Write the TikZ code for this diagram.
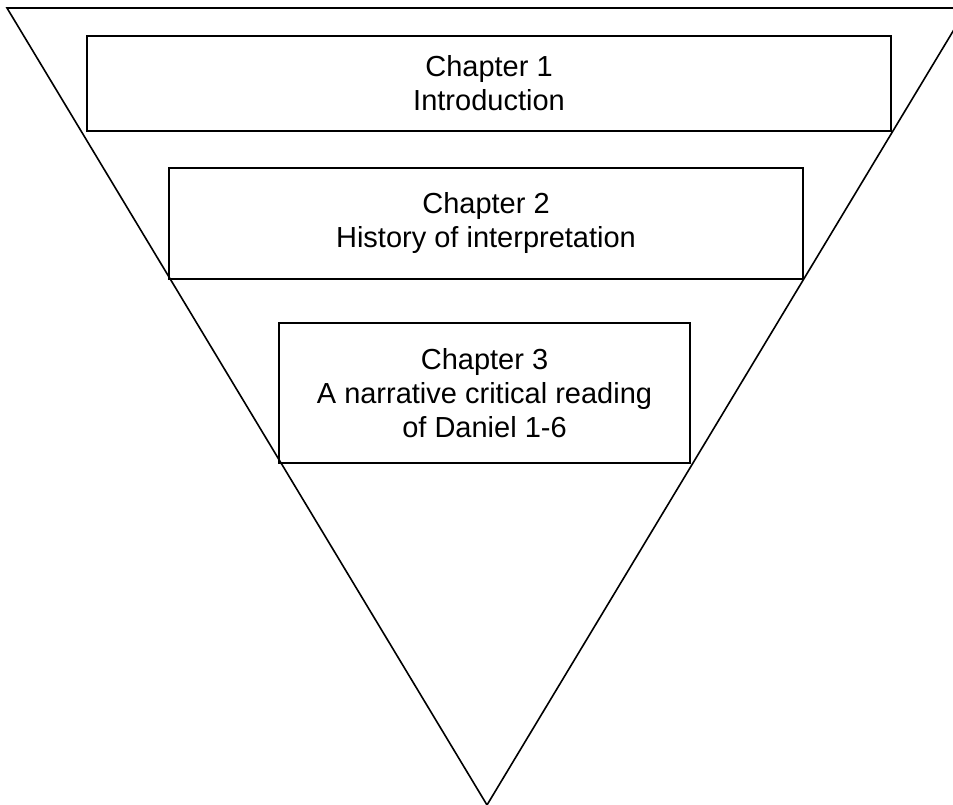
\documentclass[tikz,border=0pt]{standalone}
\usepackage{fontspec}
\setmainfont{Liberation Sans}
\usetikzlibrary{positioning}

\begin{document}
\begin{tikzpicture}[
    x=1pt, y=-1pt,
    node distance=36pt,
    chapbox/.style={rectangle, draw, line width=2pt, align=center, inner sep=0pt, font=\fontsize{29}{34}\selectfont},
    funnel/.style={line width=1.6pt, line join=miter}
]
    \useasboundingbox (0,0) rectangle (953,805);
    \clip (0,0) rectangle (953,805);

    % Funnel outline
    \coordinate (topleft) at (7,8);
    \coordinate (topright) at (967,8);
    \coordinate (apex) at (487,805);
    \draw[funnel] (topleft) -- (topright) -- (apex) -- cycle;

    % Chapter boxes
    \node[chapbox, minimum width=804pt, minimum height=95pt] (intro) at (489,83.5) {Chapter 1\\Introduction};
    \node[chapbox, minimum width=634pt, minimum height=111pt, below=35pt of intro, xshift=-3pt] (history) {Chapter 2\\History of interpretation};
    \node[chapbox, minimum width=411pt, minimum height=140pt, below=42pt of history, xshift=-1.5pt] (reading) {Chapter 3\\A narrative critical reading\\of Daniel 1-6};
\end{tikzpicture}
\end{document}
